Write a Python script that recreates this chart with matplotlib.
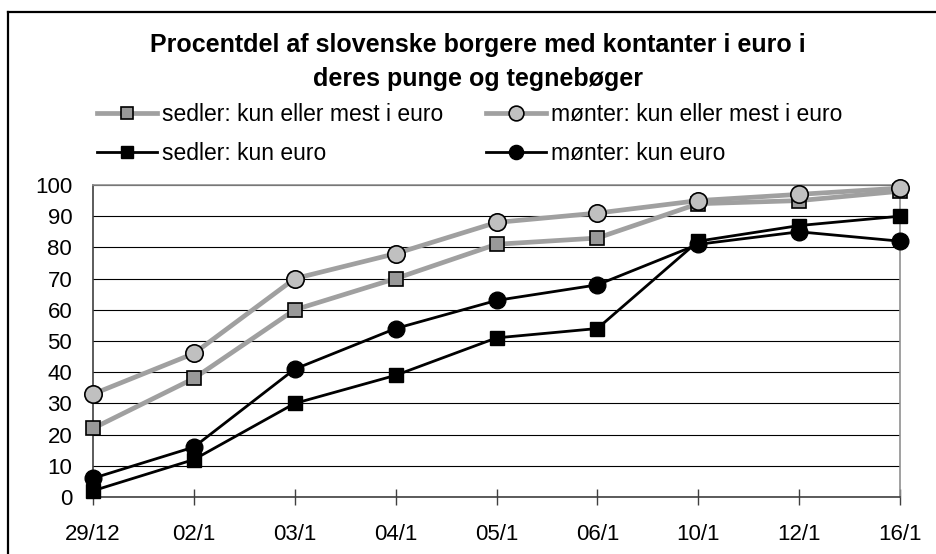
import matplotlib
matplotlib.use("Agg")
import matplotlib.pyplot as plt
from matplotlib.lines import Line2D

plt.rcParams["font.family"] = ["Liberation Sans", "DejaVu Sans"]

# data
dates = ["29/12", "02/1", "03/1", "04/1", "05/1", "06/1", "10/1", "12/1", "16/1"]
notes_mostly = [22, 38, 60, 70, 81, 83, 94, 95, 98]
coins_mostly = [33, 46, 70, 78, 88, 91, 95, 97, 99]
notes_only = [2, 12, 30, 39, 51, 54, 82, 87, 90]
coins_only = [6, 16, 41, 54, 63, 68, 81, 85, 82]

labels = [
    "sedler: kun eller mest i euro",
    "mønter: kun eller mest i euro",
    "sedler: kun euro",
    "mønter: kun euro",
]

W, H = 936, 554
fig = plt.figure(figsize=(W / 100, H / 100), dpi=100)
ax = fig.add_axes([93 / W, 1 - 497 / H, (900 - 93) / W, (497 - 185) / H])

x = list(range(len(dates)))
grey_line = "#a0a0a0"

ax.plot(x, notes_mostly, color=grey_line, lw=3.4, marker="s", ms=10,
        mfc="#999999", mec="black", mew=1.2, label=labels[0], clip_on=False, zorder=3)
ax.plot(x, coins_mostly, color=grey_line, lw=3.4, marker="o", ms=12.5,
        mfc="#c0c0c0", mec="black", mew=1.2, label=labels[1], clip_on=False, zorder=3)
ax.plot(x, notes_only, color="black", lw=2, marker="s", ms=10,
        mfc="black", mec="black", label=labels[2], clip_on=False, zorder=4)
ax.plot(x, coins_only, color="black", lw=2, marker="o", ms=12,
        mfc="black", mec="black", label=labels[3], clip_on=False, zorder=4)

ax.set_xlim(0, len(dates) - 1)
ax.set_ylim(0, 100)
ax.set_xticks(x)
ax.set_xticklabels(dates)
ax.set_yticks(range(0, 101, 10))
ax.tick_params(axis="x", direction="inout", length=11, width=1, color="#404040",
               labelsize=16, pad=14)
ax.tick_params(axis="y", length=0, labelsize=16, pad=15)
ax.yaxis.grid(True, color="black", lw=0.8)
ax.set_axisbelow(True)

for side in ["left", "bottom"]:
    ax.spines[side].set_color("#404040")
    ax.spines[side].set_linewidth(1.2)
for side in ["top", "right"]:
    ax.spines[side].set_color("#909090")
    ax.spines[side].set_linewidth(1.2)

# legend above the plot, two columns filled row by row
handles, labs = ax.get_legend_handles_labels()
order = [0, 2, 1, 3]
fig.legend([handles[i] for i in order], [labs[i] for i in order], ncol=2,
           loc="center left", bbox_to_anchor=(97 / W, 1 - 134 / H), frameon=False,
           fontsize=16.5, handlelength=2.6, handletextpad=0.22, columnspacing=1.9,
           labelspacing=0.74, markerscale=0.85, borderpad=0, borderaxespad=0)

fig.text(478 / W, 1 - 62 / H,
         "Procentdel af slovenske borgere med kontanter i euro i\nderes punge og tegnebøger",
         ha="center", va="center", fontsize=18, fontweight="bold", linespacing=1.55)

# outer chart frame (runs off the right and bottom edge)
fig.add_artist(Line2D([8 / W, 8 / W], [0, 1 - 12 / H], color="black", lw=1.6))
fig.add_artist(Line2D([8 / W, 1], [1 - 12 / H, 1 - 12 / H], color="black", lw=1.6))

fig.savefig("out.png", dpi=100, facecolor="white")
